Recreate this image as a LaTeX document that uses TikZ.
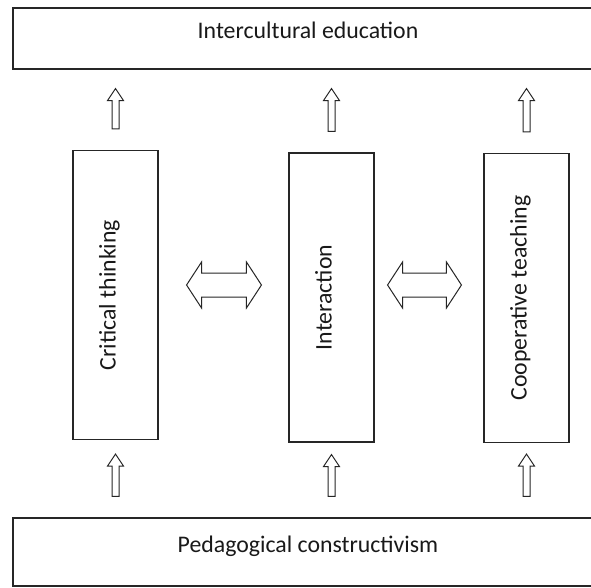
\documentclass[tikz,border=0pt]{standalone}
\usepackage{fontspec}
\setmainfont{Carlito}
\usetikzlibrary{calc}
\begin{document}
\begin{tikzpicture}[x=1pt,y=-1pt,
	box/.style={draw=black!85, line width=1.1pt, inner sep=0pt, text=black!90, text height=7pt, text depth=7pt, font=\fontsize{23.8}{28}\selectfont},
	column/.style={box, rotate=90, minimum width=289, minimum height=85},
	uparrow/.style={draw=black!85, line width=1pt, to path={let \p1=(\tikztostart), \p2=(\tikztotarget) in
		(\x1-3.5pt,\y1) -- (\x1-3.5pt,\y2-12pt) -- (\x1-8pt,\y2-12pt) -- (\x1,\y2) -- (\x1+8pt,\y2-12pt) -- (\x1+3.5pt,\y2-12pt) -- (\x1+3.5pt,\y1) -- cycle}},
	dblarrow/.style={draw=black!85, line width=1pt, to path={let \p1=(\tikztostart), \p2=(\tikztotarget) in
		(\x1,\y1) -- (\x1+15pt,\y1+23pt) -- (\x1+15pt,\y1+12pt) -- (\x2-15pt,\y1+12pt) -- (\x2-15pt,\y1+23pt) -- (\x2,\y1)
		-- (\x2-15pt,\y1-23pt) -- (\x2-15pt,\y1-12pt) -- (\x1+15pt,\y1-12pt) -- (\x1+15pt,\y1-23pt) -- cycle}}]
	\useasboundingbox[fill=white] (0,0) rectangle (591,587);

	\node[box, minimum width=590, minimum height=61] (culture) at (308,38.5) {Intercultural education};
	\node[box, minimum width=590, minimum height=68] (pedagogy) at (308,552) {Pedagogical constructivism};

	\node[column] (critical) at (115.5,295) {Critical thinking};
	\node[column] (interaction) at (331.5,297.5) {Interaction};
	\node[column] (coop) at (526.5,298) {Cooperative teaching};

	\draw[uparrow] ([yshift=21pt]critical.east) to ([yshift=-19pt]critical.east |- culture.south);
	\draw[uparrow] ([yshift=21pt]interaction.east) to ([yshift=-19pt]interaction.east |- culture.south);
	\draw[uparrow] ([yshift=21pt]coop.east) to ([yshift=-19pt]coop.east |- culture.south);

	\draw[uparrow] ([yshift=21pt]critical.west |- pedagogy.north) to ([yshift=-14pt]critical.west);
	\draw[uparrow] ([yshift=21pt]interaction.west |- pedagogy.north) to ([yshift=-12pt]interaction.west);
	\draw[uparrow] ([yshift=21pt]coop.west |- pedagogy.north) to ([yshift=-11pt]coop.west);

	\draw[dblarrow] ([xshift=28pt]critical.south |- 0,285) to ([xshift=-27pt]interaction.north |- 0,285);
	\draw[dblarrow] ([xshift=13pt]interaction.south |- 0,285) to ([xshift=-22pt]coop.north |- 0,285);
\end{tikzpicture}
\end{document}
